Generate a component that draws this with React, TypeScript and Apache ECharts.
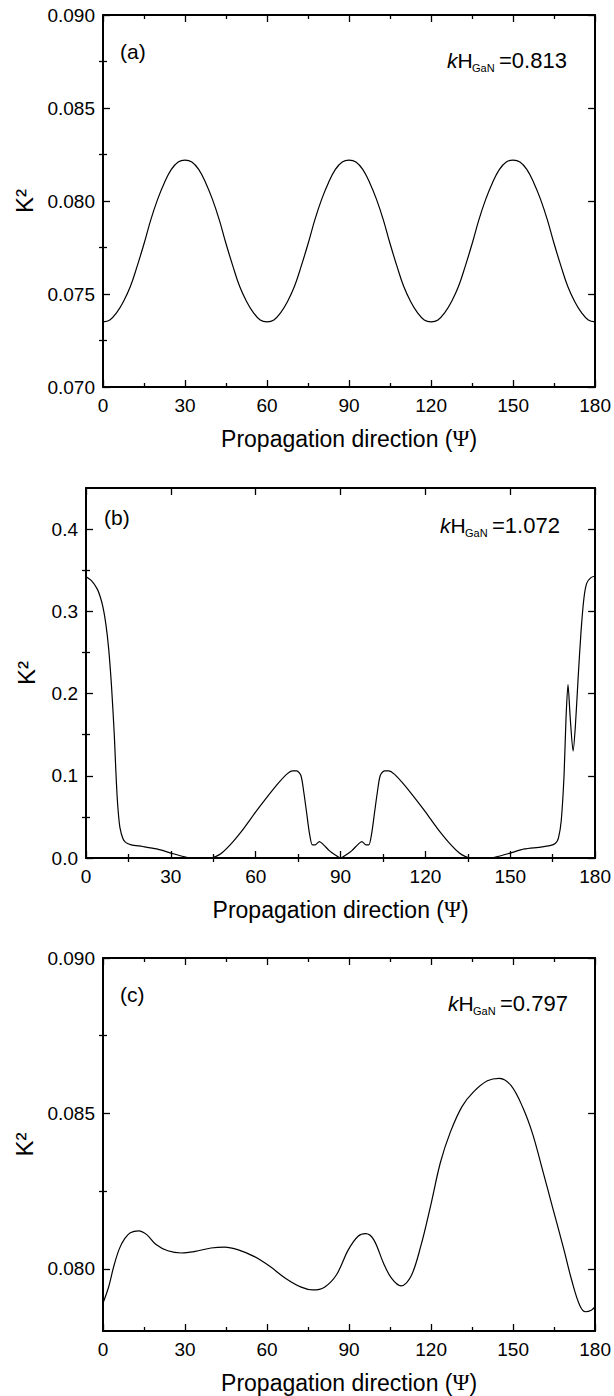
import { useEffect, useRef } from 'react';
import * as echarts from 'echarts';

const FONT = '"Liberation Sans", Arial, Helvetica, sans-serif';
const SERIF = '"Liberation Serif", "DejaVu Serif", serif';

// ---------- shared ----------
const xTitle = 'Propagation direction (';
const xTitlePsi = 'Ψ';
const yTitle = 'K²';
const xTickValues = [0, 30, 60, 90, 120, 150, 180];
const xMinorValues = [15, 45, 75, 105, 135, 165];

// ---------- panel (a) ----------
const psiA = [0, 2.5, 5, 7.5, 10, 12.5, 15, 17.5, 20, 22.5, 25, 27.5, 30, 32.5, 35, 37.5, 40, 42.5, 45, 47.5, 50, 52.5, 55, 57.5, 60, 62.5, 65, 67.5, 70, 72.5, 75, 77.5, 80, 82.5, 85, 87.5, 90, 92.5, 95, 97.5, 100, 102.5, 105, 107.5, 110, 112.5, 115, 117.5, 120, 122.5, 125, 127.5, 130, 132.5, 135, 137.5, 140, 142.5, 145, 147.5, 150, 152.5, 155, 157.5, 160, 162.5, 165, 167.5, 170, 172.5, 175, 177.5, 180];
const k2A = [
  0.0735, 0.0736, 0.0740, 0.0746, 0.0754, 0.0765, 0.0777, 0.0790, 0.0801, 0.0810, 0.0817, 0.0821, 0.0822,
  0.0821, 0.0817, 0.0810, 0.0801, 0.0790, 0.0777, 0.0765, 0.0754, 0.0746, 0.0740, 0.0736, 0.0735,
  0.0736, 0.0740, 0.0746, 0.0754, 0.0765, 0.0777, 0.0790, 0.0801, 0.0810, 0.0817, 0.0821, 0.0822,
  0.0821, 0.0817, 0.0810, 0.0801, 0.0790, 0.0777, 0.0765, 0.0754, 0.0746, 0.0740, 0.0736, 0.0735,
  0.0736, 0.0740, 0.0746, 0.0754, 0.0765, 0.0777, 0.0790, 0.0801, 0.0810, 0.0817, 0.0821, 0.0822,
  0.0821, 0.0817, 0.0810, 0.0801, 0.0790, 0.0777, 0.0765, 0.0754, 0.0746, 0.0740, 0.0736, 0.0735,
];
const yTicksA = [0.07, 0.075, 0.08, 0.085, 0.09];
const yMinorA = [0.0725, 0.0775, 0.0825, 0.0875];
const tagA = '(a)';
const khA = '=0.813';

// ---------- panel (b) ----------
const psiB = [0, 2, 4, 5, 6, 7, 8, 9, 10, 10.5, 11, 11.5, 12, 13, 14, 16, 20, 25, 30, 33, 36, 38, 44, 46, 48, 52, 56, 60, 64, 68, 71, 73, 74.5, 76, 77, 78, 79, 80, 81, 82.5, 84, 86, 88, 90, 92, 94, 96, 97.5, 99, 100, 101, 102, 103, 104, 105.5, 107, 109, 112, 116, 120, 124, 128, 132, 134, 136, 142, 144, 147, 150, 155, 160, 164, 166, 167, 168, 169, 169.7, 170.4, 171.2, 172.2, 173, 174, 175, 176, 177, 178.5, 180];
const k2B = [0.342, 0.337, 0.327, 0.318, 0.305, 0.285, 0.255, 0.21, 0.15, 0.11, 0.075, 0.052, 0.037, 0.024, 0.019, 0.016, 0.014, 0.011, 0.006, 0.003, 0.0005, 0, 0, 0.002, 0.006, 0.02, 0.037, 0.056, 0.074, 0.091, 0.102, 0.106, 0.106, 0.1, 0.08, 0.055, 0.03, 0.016, 0.016, 0.02, 0.016, 0.009, 0.004, 0, 0.004, 0.009, 0.016, 0.02, 0.016, 0.016, 0.03, 0.055, 0.08, 0.1, 0.106, 0.106, 0.102, 0.091, 0.074, 0.056, 0.037, 0.02, 0.006, 0.002, 0, 0, 0.0005, 0.003, 0.006, 0.011, 0.013, 0.015, 0.018, 0.024, 0.045, 0.1, 0.17, 0.211, 0.17, 0.13, 0.16, 0.22, 0.275, 0.315, 0.334, 0.341, 0.343];
const yTicksB = [0, 0.1, 0.2, 0.3, 0.4];
const yMinorB = [0.05, 0.15, 0.25, 0.35];
const tagB = '(b)';
const khB = '=1.072';

// ---------- panel (c) ----------
const psiC = [0, 2, 4, 6, 8, 10, 13, 16, 19.4, 23.7, 28.7, 33.7, 39.5, 44.5, 49.5, 55.2, 61, 66.7, 72.5, 76.8, 81, 85.4, 89.7, 93.3, 96.1, 99, 102.6, 105.5, 109, 112.6, 116.2, 119.8, 123.4, 127, 131.3, 135.6, 140.6, 144.9, 149.2, 153.5, 157.1, 160.7, 164.3, 168.6, 171.4, 174.3, 176.5, 178.6, 180];
const k2C = [0.0789, 0.0794, 0.0801, 0.08065, 0.08098, 0.08116, 0.08122, 0.0811, 0.08078, 0.08058, 0.08051, 0.08056, 0.08067, 0.0807, 0.08061, 0.0804, 0.08008, 0.0797, 0.07941, 0.07932, 0.07941, 0.07981, 0.08061, 0.08105, 0.08113, 0.08094, 0.08018, 0.0797, 0.07945, 0.07975, 0.08072, 0.08202, 0.08342, 0.08439, 0.08522, 0.0857, 0.08605, 0.08613, 0.0859, 0.0852, 0.08435, 0.0832, 0.08202, 0.08061, 0.07964, 0.07884, 0.07862, 0.07867, 0.07878];
const yTicksC = [0.08, 0.085, 0.09];
const yMinorC = [0.0825, 0.0875];
const tagC = '(c)';
const khC = '=0.797';

type Panel = {
  grid: { left: number; top: number; width: number; height: number };
  min: number; max: number;
  major: number[]; minor: number[]; digits: number;
  psi: number[]; k2: number[];
  tag: string; kh: string;
  smooth: number | boolean;
};

const panels: Panel[] = [
  { grid: { left: 103, top: 15, width: 495, height: 372 }, min: 0.07, max: 0.09, major: yTicksA, minor: yMinorA, digits: 3, psi: psiA, k2: k2A, tag: tagA, kh: khA, smooth: 0.4 },
  { grid: { left: 86, top: 488, width: 510, height: 370 }, min: 0, max: 0.45, major: yTicksB, minor: yMinorB, digits: 1, psi: psiB, k2: k2B, tag: tagB, kh: khB, smooth: 0.25 },
  { grid: { left: 103, top: 958, width: 496, height: 373 }, min: 0.078, max: 0.09, major: yTicksC, minor: yMinorC, digits: 3, psi: psiC, k2: k2C, tag: tagC, kh: khC, smooth: 0.35 },
];

const black = '#000';

export default function App() {
  const ref = useRef<HTMLDivElement>(null);
  useEffect(() => {
    if (!ref.current) return;
    const chart = echarts.init(ref.current, undefined, { renderer: 'svg' });
    const grids: any[] = [];
    const xAxes: any[] = [];
    const yAxes: any[] = [];
    const series: any[] = [];
    const graphics: any[] = [];

    panels.forEach((p, i) => {
      grids.push({ ...p.grid, containLabel: false });
      const xBase = xAxes.length;
      const xCommon = {
        type: 'value', gridIndex: i, min: 0, max: 180,
        splitLine: { show: false },
        axisLine: { show: true, onZero: false, lineStyle: { color: black, width: 2 } },
      };
      xAxes.push({
        ...xCommon, position: 'bottom',
        axisTick: { show: true, inside: true, length: 7, customValues: xTickValues, lineStyle: { color: black, width: 1.3 } },
        axisLabel: { show: true, customValues: xTickValues, color: black, fontSize: 19, fontFamily: FONT, margin: 9 },
        name: `{a|${xTitle}}{b|${xTitlePsi}}{a|)}`,
        nameLocation: 'middle', nameGap: 40,
        nameTextStyle: {
          fontSize: 23, fontFamily: FONT, color: black,
          rich: {
            a: { fontSize: 23, fontFamily: FONT, color: black },
            b: { fontSize: 23, fontFamily: SERIF, color: black },
          },
        },
      });
      xAxes.push({
        ...xCommon, position: 'top',
        axisTick: { show: true, inside: true, length: 7, customValues: xTickValues, lineStyle: { color: black, width: 1.3 } },
        axisLabel: { show: false },
      });
      xAxes.push({
        ...xCommon, position: 'bottom', axisLine: { show: false },
        axisTick: { show: true, inside: true, length: 4, customValues: xMinorValues, lineStyle: { color: black, width: 1.3 } },
        axisLabel: { show: false },
      });
      xAxes.push({
        ...xCommon, position: 'top', axisLine: { show: false },
        axisTick: { show: true, inside: true, length: 4, customValues: xMinorValues, lineStyle: { color: black, width: 1.3 } },
        axisLabel: { show: false },
      });

      const yBase = yAxes.length;
      const yCommon = {
        type: 'value', gridIndex: i, min: p.min, max: p.max,
        splitLine: { show: false },
        axisLine: { show: true, onZero: false, lineStyle: { color: black, width: 2 } },
      };
      yAxes.push({
        ...yCommon, position: 'left',
        axisTick: { show: true, inside: true, length: 7, customValues: p.major, lineStyle: { color: black, width: 1.3 } },
        axisLabel: {
          show: true, customValues: p.major, color: black, fontSize: 19, fontFamily: FONT, margin: 8,
          formatter: (v: number) => v.toFixed(p.digits),
        },
        name: yTitle, nameLocation: 'middle', nameGap: i === 1 ? 48 : 64, nameRotate: 90,
        nameTextStyle: { fontSize: 24, fontFamily: FONT, color: black },
      });
      yAxes.push({
        ...yCommon, position: 'right',
        axisTick: { show: true, inside: true, length: 7, customValues: p.major, lineStyle: { color: black, width: 1.3 } },
        axisLabel: { show: false },
      });
      yAxes.push({
        ...yCommon, position: 'left', axisLine: { show: false },
        axisTick: { show: true, inside: true, length: 4, customValues: p.minor, lineStyle: { color: black, width: 1.3 } },
        axisLabel: { show: false },
      });
      yAxes.push({
        ...yCommon, position: 'right', axisLine: { show: false },
        axisTick: { show: true, inside: true, length: 4, customValues: p.minor, lineStyle: { color: black, width: 1.3 } },
        axisLabel: { show: false },
      });

      series.push({
        type: 'line', xAxisIndex: xBase, yAxisIndex: yBase,
        data: p.psi.map((x, j) => [x, p.k2[j]]),
        showSymbol: false, smooth: p.smooth,
        lineStyle: { color: black, width: 1.2 },
        clip: true,
      });

      const gl = p.grid.left;
      const gt = p.grid.top;
      const right = gl + p.grid.width;
      const tagDx = i === 1 ? 18 : 17;
      const tagDy = i === 1 ? 29 : 36;
      graphics.push({
        type: 'text', x: gl + tagDx, y: gt + tagDy,
        style: { text: p.tag, fontSize: 21, fontFamily: FONT, fill: black, verticalAlign: 'middle', align: 'left' },
      });
      const kx = right - (i === 1 ? 156 : 151);
      const ky = gt + (i === 1 ? 37 : 45);
      graphics.push({
        type: 'text', x: kx, y: ky,
        style: {
          text: '{i|k}{h|H}', verticalAlign: 'middle', align: 'left', fill: black,
          rich: {
            i: { fontSize: 21, fontFamily: FONT, fontStyle: 'italic', fill: black },
            h: { fontSize: 21, fontFamily: FONT, fill: black },
          },
        },
      });
      graphics.push({
        type: 'text', x: kx + 25, y: ky + 8,
        style: { text: 'GaN', fontSize: 11, fontFamily: FONT, fill: black, verticalAlign: 'middle', align: 'left' },
      });
      graphics.push({
        type: 'text', x: kx + 52, y: ky,
        style: { text: p.kh, fontSize: 22, fontFamily: FONT, fill: black, verticalAlign: 'middle', align: 'left' },
      });
    });

    chart.setOption({
      animation: false,
      backgroundColor: '#fff',
      grid: grids,
      xAxis: xAxes,
      yAxis: yAxes,
      series,
      graphic: graphics,
    });
    return () => chart.dispose();
  }, []);

  return (
    <div
      ref={ref}
      style={{ position: 'absolute', left: 0, top: 0, width: 614, height: 1396, background: '#fff' }}
    />
  );
}
